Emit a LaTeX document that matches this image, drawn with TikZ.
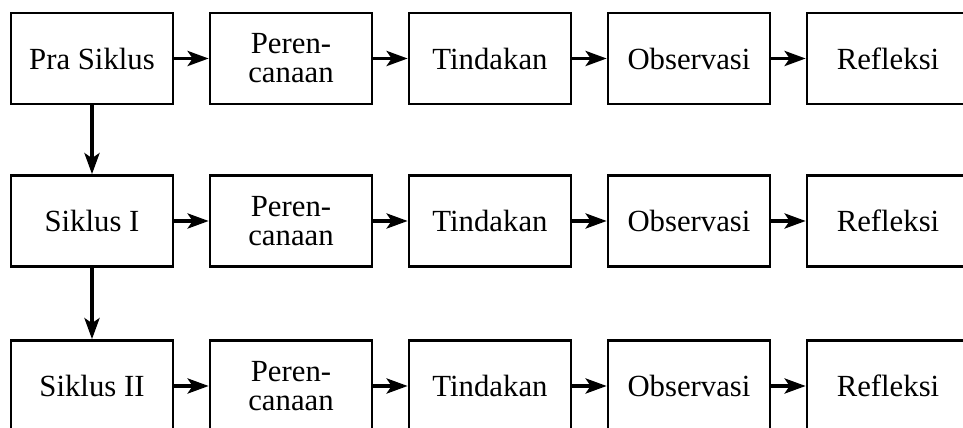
\documentclass[tikz,border=0pt]{standalone}
\usepackage{fontspec}
\setmainfont{Liberation Serif}
\usetikzlibrary{arrows.meta}
\tikzset{
  stage/.style={draw, line width=0.054cm, minimum width=3.24cm, minimum height=1.82cm,
    align=center, inner sep=0pt, font=\fontsize{17.5}{16.5}\selectfont},
  arr/.style={line width=0.075cm, -{Stealth[length=0.42cm, width=0.3cm, inset=0.1cm]}}
}
\begin{document}
\begin{tikzpicture}[x=0.02cm, y=-0.02cm]
      \useasboundingbox (0,0) rectangle (963,428);
      \clip (0,0) rectangle (963,428);
      % first row
      \node[stage] (pra) at (92,58.5) {Pra Siklus};
      \node[stage] (per1) at (291,58.5) {Peren-\\canaan};
      \node[stage] (tin1) at (490,58.5) {Tindakan};
      \node[stage] (obs1) at (689,58.5) {Observasi};
      \node[stage] (ref1) at (888,58.5) {Refleksi};
      % second row
      \node[stage] (sik1) at (92,221) {Siklus I};
      \node[stage] (per2) at (291,221) {Peren-\\canaan};
      \node[stage] (tin2) at (490,221) {Tindakan};
      \node[stage] (obs2) at (689,221) {Observasi};
      \node[stage] (ref2) at (888,221) {Refleksi};
      % third row
      \node[stage] (sik2) at (92,386) {Siklus II};
      \node[stage] (per3) at (291,386) {Peren-\\canaan};
      \node[stage] (tin3) at (490,386) {Tindakan};
      \node[stage] (obs3) at (689,386) {Observasi};
      \node[stage] (ref3) at (888,386) {Refleksi};
      \draw[arr] (pra) -- (per1);
      \draw[arr] (per1) -- (tin1);
      \draw[arr] (tin1) -- (obs1);
      \draw[arr] (obs1) -- (ref1);
      \draw[arr] (sik1) -- (per2);
      \draw[arr] (per2) -- (tin2);
      \draw[arr] (tin2) -- (obs2);
      \draw[arr] (obs2) -- (ref2);
      \draw[arr] (sik2) -- (per3);
      \draw[arr] (per3) -- (tin3);
      \draw[arr] (tin3) -- (obs3);
      \draw[arr] (obs3) -- (ref3);
      \draw[arr] (pra) -- (sik1);
      \draw[arr] (sik1) -- (sik2);
    \end{tikzpicture}
\end{document}
